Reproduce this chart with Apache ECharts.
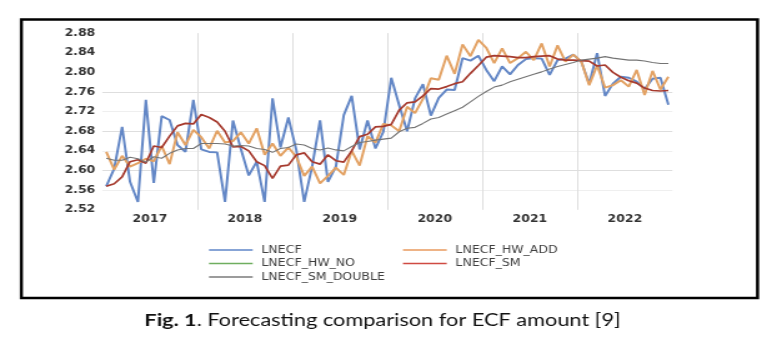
<!DOCTYPE html>
<html>
<head>
<meta charset="utf-8">
<script src="https://cdn.jsdelivr.net/npm/echarts@6/dist/echarts.min.js"></script>
<style>
  html, body { margin: 0; padding: 0; background: #fff; overflow: hidden; }
  #wrap { width: 782px; height: 348px; position: relative; overflow: hidden; }
  /* the figure is drawn narrow and widened horizontally, like the exported figure */
  #chart { width: 626px; height: 348px; transform: scaleX(1.2492); transform-origin: 0 0; }
</style>
</head>
<body>
<div id="wrap"><div id="chart"></div></div>
<script>
// Monthly observations, Jan 2017 .. Dec 2022
const years = [2017, 2018, 2019, 2020, 2021, 2022];

const lnecf = [
  2.568, 2.604, 2.689, 2.577, 2.536, 2.744, 2.575, 2.711, 2.703, 2.652, 2.638, 2.744,
  2.643, 2.638, 2.637, 2.536, 2.702, 2.644, 2.590, 2.618, 2.536, 2.747, 2.647, 2.708,
  2.642, 2.536, 2.608, 2.702, 2.577, 2.608, 2.713, 2.752, 2.643, 2.702, 2.645, 2.679,
  2.789, 2.733, 2.680, 2.747, 2.776, 2.712, 2.748, 2.765, 2.764, 2.829, 2.824, 2.834,
  2.805, 2.782, 2.812, 2.796, 2.815, 2.827, 2.829, 2.828, 2.795, 2.825, 2.828, 2.836,
  2.822, 2.777, 2.839, 2.752, 2.777, 2.791, 2.789, 2.781, 2.766, 2.787, 2.789, 2.734
];

const lnecfHwAdd = [
  2.638, 2.602, 2.630, 2.608, 2.615, 2.624, 2.619, 2.650, 2.613, 2.678, 2.652, 2.683,
  2.668, 2.645, 2.681, 2.657, 2.660, 2.678, 2.655, 2.686, 2.632, 2.655, 2.630, 2.647,
  2.628, 2.589, 2.608, 2.574, 2.589, 2.606, 2.591, 2.640, 2.610, 2.670, 2.657, 2.695,
  2.692, 2.680, 2.730, 2.717, 2.746, 2.788, 2.785, 2.834, 2.797, 2.857, 2.833, 2.866,
  2.850, 2.819, 2.849, 2.819, 2.829, 2.842, 2.825, 2.859, 2.812, 2.855, 2.822, 2.836,
  2.822, 2.774, 2.814, 2.769, 2.774, 2.784, 2.771, 2.805, 2.754, 2.803, 2.765, 2.791
];

const lnecfHwNo = [];

const lnecfSm = [
  2.568, 2.573, 2.587, 2.618, 2.622, 2.615, 2.650, 2.647, 2.670, 2.691, 2.696, 2.695,
  2.714, 2.708, 2.699, 2.680, 2.648, 2.649, 2.640, 2.618, 2.610, 2.584, 2.609, 2.611,
  2.632, 2.636, 2.618, 2.613, 2.632, 2.620, 2.617, 2.640, 2.669, 2.674, 2.689, 2.690,
  2.694, 2.723, 2.738, 2.740, 2.752, 2.767, 2.766, 2.771, 2.777, 2.781, 2.798, 2.814,
  2.831, 2.834, 2.833, 2.832, 2.830, 2.830, 2.832, 2.833, 2.834, 2.827, 2.825, 2.825,
  2.824, 2.823, 2.813, 2.815, 2.800, 2.790, 2.783, 2.778, 2.768, 2.763, 2.762, 2.763
];

const lnecfSmDouble = [
  2.625, 2.621, 2.621, 2.627, 2.624, 2.617, 2.628, 2.625, 2.635, 2.642, 2.645, 2.645,
  2.655, 2.655, 2.655, 2.654, 2.650, 2.651, 2.650, 2.645, 2.643, 2.637, 2.645, 2.647,
  2.654, 2.652, 2.645, 2.642, 2.646, 2.642, 2.640, 2.649, 2.657, 2.659, 2.662, 2.664,
  2.666, 2.679, 2.686, 2.688, 2.696, 2.705, 2.708, 2.715, 2.722, 2.729, 2.740, 2.751,
  2.761, 2.770, 2.774, 2.781, 2.786, 2.791, 2.796, 2.801, 2.807, 2.812, 2.816, 2.820,
  2.825, 2.827, 2.829, 2.832, 2.829, 2.827, 2.825, 2.825, 2.823, 2.820, 2.818, 2.818
];

// each month sits in the middle of its slot on a 0..72 month scale
const asPoints = arr => arr.map((v, i) => [i + 0.5, v]);

const FONT = 'DejaVu Sans';
const GRID_STRONG = '#dedede';
const GRID_FAINT = '#efefef';
const NONE = 'rgba(0,0,0,0)';

const chart = echarts.init(document.getElementById('chart'), null, { renderer: 'canvas' });

const legendCommon = {
  orient: 'horizontal',
  padding: 0,
  icon: 'rect',
  itemWidth: 35,
  itemHeight: 1.6,
  selectedMode: false,
  textStyle: { fontFamily: FONT, fontSize: 10, color: '#404040', padding: [0, 0, 0, 2] }
};

const legendItems = [
  { name: 'LNECF', color: '#5f86c8', left: 167.3, top: 245 },
  { name: 'LNECF_HW_ADD', color: '#e99a5e', left: 322.6, top: 245 },
  { name: 'LNECF_HW_NO', color: '#6fae5f', left: 167.3, top: 258.5 },
  { name: 'LNECF_SM', color: '#cf4a42', left: 322.6, top: 258.5 },
  { name: 'LNECF_SM_DOUBLE', color: '#7b7b7b', left: 167.3, top: 272 }
];

const option = {
  animation: false,
  backgroundColor: '#fff',
  grid: { left: 81.9, right: 87.8, top: 33.1, bottom: 138.2, containLabel: false },
  xAxis: {
    type: 'value',
    min: 0,
    max: 72,
    interval: 6,
    axisLine: { show: false },
    axisTick: { show: false },
    axisLabel: {
      show: true,
      margin: 5,
      fontFamily: FONT,
      fontWeight: 'bold',
      fontSize: 10,
      color: '#333',
      formatter: v => (v % 12 === 6 ? String(years[(v - 6) / 12]) : '')
    },
    splitLine: {
      show: true,
      lineStyle: {
        width: 1,
        color: [NONE, NONE, GRID_STRONG, NONE, GRID_STRONG, NONE, GRID_STRONG,
                NONE, GRID_STRONG, NONE, GRID_STRONG, NONE, NONE]
      }
    }
  },
  yAxis: {
    type: 'value',
    min: 2.52,
    max: 2.88,
    interval: 0.04,
    axisLine: { show: false },
    axisTick: { show: false },
    axisLabel: {
      margin: 5.6,
      fontFamily: FONT,
      fontWeight: 'bold',
      fontSize: 10,
      color: '#333',
      formatter: v => v.toFixed(2)
    },
    splitLine: {
      show: true,
      lineStyle: {
        width: 1,
        color: [NONE, GRID_FAINT, GRID_STRONG, GRID_FAINT, GRID_STRONG, GRID_FAINT,
                GRID_STRONG, NONE, NONE, NONE]
      }
    }
  },
  legend: legendItems.map(it => Object.assign({}, legendCommon, {
    left: it.left,
    top: it.top,
    data: [{ name: it.name, itemStyle: { color: it.color } }]
  })),
  series: [
    { name: 'LNECF', data: asPoints(lnecf), color: '#6387c6', lineStyle: { width: 2 } },
    { name: 'LNECF_HW_ADD', data: asPoints(lnecfHwAdd), color: '#e3a264', lineStyle: { width: 2 } },
    { name: 'LNECF_HW_NO', data: asPoints(lnecfHwNo), color: '#6fae5f', lineStyle: { width: 1.6 } },
    { name: 'LNECF_SM', data: asPoints(lnecfSm), color: '#a63a2e', lineStyle: { width: 1.7 } },
    { name: 'LNECF_SM_DOUBLE', data: asPoints(lnecfSmDouble), color: '#747474', lineStyle: { width: 1.1 } }
  ].map(s => Object.assign({
    type: 'line',
    showSymbol: false,
    symbol: 'none',
    smooth: false
  }, s)),
  graphic: [
    {
      type: 'rect',
      silent: true,
      shape: { x: 17.1, y: 19.6, width: 589.3, height: 278.4 },
      style: { fill: 'none', stroke: '#000', lineWidth: 2.5 }
    },
    {
      type: 'text',
      silent: true,
      x: 306.2,
      y: 320,
      style: {
        text: '{b|Fig. 1}. Forecasting comparison for ECF amount [9]',
        align: 'center',
        verticalAlign: 'middle',
        font: '17.4px Lato',
        fill: '#111',
        rich: {
          b: { fontFamily: 'Lato', fontSize: 17.4, fontWeight: 'bold', fill: '#111' }
        }
      }
    }
  ]
};

chart.setOption(option);
</script>
</body>
</html>
